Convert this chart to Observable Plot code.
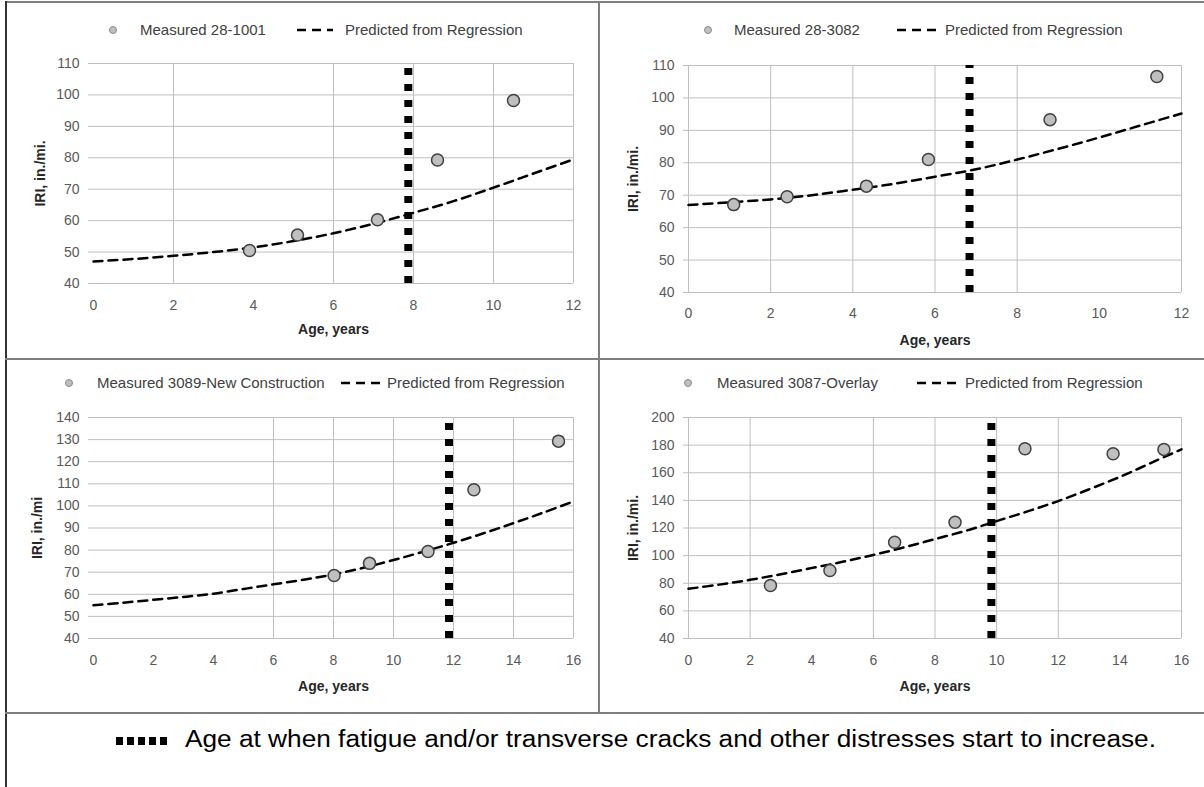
<!DOCTYPE html>
<html><head><meta charset="utf-8">
<script src="https://cdn.jsdelivr.net/npm/d3@7"></script>
<script src="https://cdn.jsdelivr.net/npm/@observablehq/plot@0.6"></script>
<style>
body{margin:0;background:#fff;}
#wrap{position:relative;width:1204px;height:787px;overflow:hidden;font-family:"Liberation Sans",Arial,sans-serif;background:#fff;}
.pnl{position:absolute;}
.bd{position:absolute;background:#7f7f7f;}
.lt{position:absolute;font-size:15px;color:#404040;white-space:nowrap;line-height:16px;}
.ls{position:absolute;overflow:visible;}
</style></head><body><div id="wrap"></div>
<script>
// ---------- data ----------
const ageTicks12 = [0, 2, 4, 6, 8, 10, 12];
const ageTicks16 = [0, 2, 4, 6, 8, 10, 12, 14, 16];
const iriTicks110 = [40, 50, 60, 70, 80, 90, 100, 110];
const iriTicks140 = [40, 50, 60, 70, 80, 90, 100, 110, 120, 130, 140];
const iriTicks200 = [40, 60, 80, 100, 120, 140, 160, 180, 200];

const sections = ["28-1001", "28-3082", "3089-New Construction", "3087-Overlay"];
const yTitles = ["IRI, in./mi.", "IRI, in./mi.", "IRI, in./mi", "IRI, in./mi."];
const xTitle = "Age, years";
const predLabel = "Predicted from Regression";
const crackNote = "Age at when fatigue and/or transverse cracks and other distresses start to increase.";

// measured points
const age1 = [3.9, 5.1, 7.1, 8.6, 10.5];
const iri1 = [50.5, 55.4, 60.3, 79.3, 98.2];
const age2 = [1.1, 2.4, 4.33, 5.84, 8.8, 11.4];
const iri2 = [67.1, 69.5, 72.8, 81, 93.3, 106.6];
const age3 = [8.02, 9.2, 11.15, 12.68, 15.5];
const iri3 = [68.5, 74, 79.4, 107.3, 129.3];
const age4 = [2.66, 4.59, 6.69, 8.65, 10.92, 13.78, 15.43];
const iri4 = [78.4, 89.2, 109.7, 124.2, 177.4, 173.7, 176.9];

// predicted (regression) curves, read at each year
const predAge12 = [0, 1, 2, 3, 4, 5, 6, 7, 8, 9, 10, 11, 12];
const predAge16 = [0, 1, 2, 3, 4, 5, 6, 7, 8, 9, 10, 11, 12, 13, 14, 15, 16];
const pred1 = [47, 47.8, 48.8, 50, 51.5, 53.5, 56, 59, 62.5, 66.2, 70.5, 75, 79.5];
const pred2 = [67, 67.8, 68.7, 70, 71.7, 73.5, 75.7, 78, 81, 84.3, 87.8, 91.5, 95.2];
const pred3 = [55, 56.2, 57.5, 58.8, 60.3, 62.4, 64.5, 66.6, 69, 72, 75.5, 79.3, 83.3, 87.6, 92.2, 97, 102];
const pred4 = [76, 79, 82.5, 86.5, 91, 95.5, 100.5, 106, 112, 118, 125, 132, 139.5, 148, 157, 167, 177];

// age at which cracking starts to increase
const crackAge = [7.87, 6.84, 11.85, 9.83];

// ---------- layout ----------
const zip = (xs, ys) => xs.map((x, i) => ({age: x, iri: ys[i]}));
const panels = [
  {left: 0, top: 0, w: 600, h: 359, ml: 93, mr: 27, mt: 63, mb: 76, xPad: 17, xtDy: 46, ytDx: -53,
   xDomain: [0, 12], xTicks: ageTicks12, xGrid: [2, 6, 8, 10, 12], yDomain: [40, 110], yTicks: iriTicks110,
   meas: zip(age1, iri1), pred: zip(predAge12, pred1),
   leg: {y: 30, c: 113, t1: 140, d1: 297, d2: 333, t2: 345}},
  {left: 600, top: 0, w: 604, h: 359, ml: 88, mr: 23, mt: 65, mb: 67, xPad: 16, xtDy: 48, ytDx: -55,
   xDomain: [0, 12], xTicks: ageTicks12, xGrid: [0, 2, 4, 6, 8, 12], yDomain: [40, 110], yTicks: iriTicks110,
   meas: zip(age2, iri2), pred: zip(predAge12, pred2),
   leg: {y: 30, c: 108, t1: 134, d1: 297, d2: 339, t2: 345}},
  {left: 0, top: 359, w: 600, h: 354, ml: 93, mr: 27, mt: 58, mb: 75, xPad: 17, xtDy: 48, ytDx: -56,
   xDomain: [0, 16], xTicks: ageTicks16, xGrid: [6, 8, 10, 12, 14, 16], yDomain: [40, 140], yTicks: iriTicks140,
   meas: zip(age3, iri3), pred: zip(predAge16, pred3),
   leg: {y: 24, c: 69, t1: 97, d1: 341, d2: 381, t2: 387}},
  {left: 600, top: 359, w: 604, h: 354, ml: 88, mr: 23, mt: 58, mb: 75, xPad: 17, xtDy: 48, ytDx: -55,
   xDomain: [0, 16], xTicks: ageTicks16, xGrid: [0, 2, 6, 8, 10, 12, 16], yDomain: [40, 200], yTicks: iriTicks200,
   meas: zip(age4, iri4), pred: zip(predAge16, pred4),
   leg: {y: 24, c: 88, t1: 117, d1: 317, d2: 360, t2: 365}}
];

const wrap = document.getElementById("wrap");
const FONT = "Liberation Sans, Arial, sans-serif";
const GRID = "#bfbfbf";

panels.forEach((p, k) => {
  const chart = Plot.plot({
    width: p.w, height: p.h,
    marginLeft: p.ml, marginRight: p.mr, marginTop: p.mt, marginBottom: p.mb,
    style: {fontFamily: FONT, fontSize: "14px", color: "#595959", background: "transparent", overflow: "visible"},
    x: {domain: p.xDomain, ticks: p.xTicks, tickSize: 0, tickPadding: p.xPad, label: null},
    y: {domain: p.yDomain, ticks: p.yTicks, tickSize: 0, tickPadding: 14, label: null},
    marks: [
      Plot.ruleY(p.yTicks, {stroke: GRID, strokeWidth: 1, insetLeft: -5}),
      Plot.ruleX(p.xGrid, {stroke: GRID, strokeWidth: 1}),
      Plot.line(p.pred, {x: "age", y: "iri", stroke: "#000", strokeWidth: 2.5, strokeDasharray: "9,6", curve: "catmull-rom"}),
      Plot.ruleX([crackAge[k]], {y1: p.yDomain[0], y2: p.yDomain[1], stroke: "#000", strokeWidth: 8, strokeDasharray: "7,9"}),
      Plot.dot(p.meas, {x: "age", y: "iri", r: 6, fill: "#bfbfbf", stroke: "#404040", strokeWidth: 1.5}),
      Plot.text([yTitles[k]], {frameAnchor: "left", dx: p.ytDx, rotate: -90, textAnchor: "middle", lineAnchor: "middle",
        fontWeight: "bold", fontSize: 14, fill: "#262626"}),
      Plot.text([xTitle], {frameAnchor: "bottom", dy: p.xtDy, textAnchor: "middle", lineAnchor: "middle",
        fontWeight: "bold", fontSize: 14, fill: "#262626"})
    ]
  });
  const box = document.createElement("div");
  box.className = "pnl";
  box.style.left = p.left + "px";
  box.style.top = p.top + "px";
  box.appendChild(chart);
  wrap.appendChild(box);

  // legend
  const L = p.leg, ox = p.left, oy = p.top + L.y;
  const ns = "http://www.w3.org/2000/svg";
  const s = document.createElementNS(ns, "svg");
  s.setAttribute("class", "ls");
  s.setAttribute("width", p.w); s.setAttribute("height", 20);
  s.style.left = ox + "px"; s.style.top = (oy - 10) + "px";
  s.innerHTML = `<circle cx="${L.c}" cy="10" r="3.5" fill="#bfbfbf" stroke="#8c8c8c" stroke-width="1"/>` +
    `<line x1="${L.d1}" x2="${L.d2}" y1="10" y2="10" stroke="#000" stroke-width="2.5" stroke-dasharray="9,6"/>`;
  wrap.appendChild(s);
  const t1 = document.createElement("div");
  t1.className = "lt"; t1.textContent = "Measured " + sections[k];
  t1.style.left = (ox + L.t1) + "px"; t1.style.top = (oy - 8) + "px";
  wrap.appendChild(t1);
  const t2 = document.createElement("div");
  t2.className = "lt"; t2.textContent = predLabel;
  t2.style.left = (ox + L.t2) + "px"; t2.style.top = (oy - 8) + "px";
  wrap.appendChild(t2);
});

// table borders
function bd(l, t, w, h, c) {
  const d = document.createElement("div");
  d.className = "bd";
  d.style.cssText += `left:${l}px;top:${t}px;width:${w}px;height:${h}px;` + (c ? `background:${c};` : "");
  wrap.appendChild(d);
}
bd(5, 1, 1199, 2);
bd(5, 1, 2, 786, "#333");
bd(598, 1, 2, 712);
bd(5, 358, 1199, 2);
bd(5, 712, 1199, 2);

// bottom note
const ns = "http://www.w3.org/2000/svg";
const note = document.createElementNS(ns, "svg");
note.setAttribute("width", 1204); note.setAttribute("height", 74);
note.style.cssText = "position:absolute;left:0;top:714px;";
let sq = "";
for (let i = 0; i < 5; i++) sq += `<rect x="${116 + i * 11}" y="23" width="7" height="8" fill="#000"/>`;
note.innerHTML = sq + `<text x="185" y="27" dominant-baseline="middle" font-family="Liberation Sans, Arial, sans-serif" font-size="23" fill="#000" textLength="971" lengthAdjust="spacingAndGlyphs"></text>`;
note.querySelector("text").textContent = crackNote;
wrap.appendChild(note);
</script>
</body></html>
